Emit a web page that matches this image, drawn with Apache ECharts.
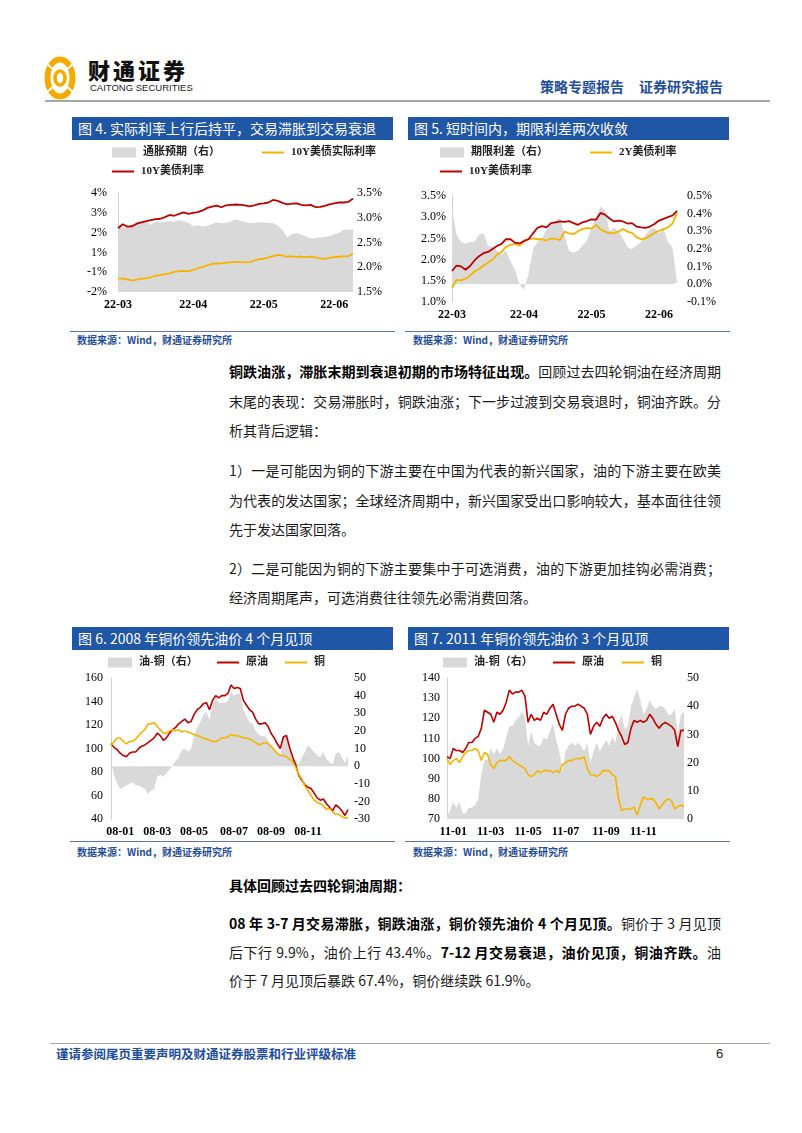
<!DOCTYPE html>
<html><head><meta charset="utf-8">
<script src="https://cdn.jsdelivr.net/npm/echarts@6/dist/echarts.min.js"></script>
<style>
html,body{margin:0;padding:0;background:#fff;}
body{width:802px;height:1133px;position:relative;overflow:hidden;font-family:'Noto Sans CJK SC',sans-serif;}
.tbar{position:absolute;height:23px;background:#1f56a5;color:#fff;font-size:14px;line-height:23px;padding-left:6px;box-sizing:border-box;white-space:nowrap;}
.src{position:absolute;font-size:10px;line-height:12px;color:#1f4e9c;font-weight:bold;white-space:nowrap;}
.srcline{position:absolute;height:1px;background:#5a76aa;}
.para{position:absolute;left:229px;width:492px;font-size:14px;color:#1a1a1a;line-height:29.5px;}
.j{text-align:justify;text-align-last:justify;}
b{font-weight:700;color:#000;}
.chart{position:absolute;}
</style></head>
<body>
<!-- header -->
<svg style="position:absolute;left:43px;top:55px" width="34" height="46" viewBox="0 0 34 46">
  <ellipse cx="17" cy="23" rx="12.5" ry="18.5" fill="none" stroke="#f5aa00" stroke-width="6"/>
  <ellipse cx="17" cy="23" rx="5" ry="7" fill="none" stroke="#f5aa00" stroke-width="3.5"/>
  <line x1="4" y1="9" x2="11" y2="15" stroke="#fff" stroke-width="2"/>
  <line x1="30" y1="9" x2="23" y2="15" stroke="#fff" stroke-width="2"/>
  <line x1="4" y1="37" x2="11" y2="31" stroke="#fff" stroke-width="2"/>
  <line x1="30" y1="37" x2="23" y2="31" stroke="#fff" stroke-width="2"/>
</svg>
<div style="position:absolute;left:88px;top:55px;font-size:22px;font-weight:900;letter-spacing:3px;color:#111;line-height:28px;">财通证券</div>
<div style="position:absolute;left:90px;top:82px;font-size:9.5px;font-family:'Liberation Sans',sans-serif;color:#222;line-height:11px;">CAITONG SECURITIES</div>
<div style="position:absolute;left:540px;top:76px;font-size:14px;font-weight:bold;color:#1f4e9c;line-height:20px;white-space:nowrap;">策略专题报告<span style="display:inline-block;width:15px"></span>证券研究报告</div>
<div style="position:absolute;left:45px;top:100px;width:725px;height:2px;background:#a6a6a6;"></div>

<!-- chart titles -->
<div class="tbar" style="left:72px;top:117px;width:321px;">图 4. 实际利率上行后持平，交易滞胀到交易衰退</div>
<div class="tbar" style="left:408px;top:117px;width:321px;">图 5. 短时间内，期限利差两次收敛</div>
<div class="tbar" style="left:72px;top:627px;width:321px;">图 6. 2008 年铜价领先油价 4 个月见顶</div>
<div class="tbar" style="left:408px;top:627px;width:321px;">图 7. 2011 年铜价领先油价 3 个月见顶</div>

<div id="c4" class="chart" style="left:70px;top:140px;width:330px;height:185px;"></div>
<div id="c5" class="chart" style="left:405px;top:140px;width:330px;height:185px;"></div>
<div id="c6" class="chart" style="left:70px;top:652px;width:330px;height:186px;"></div>
<div id="c7" class="chart" style="left:405px;top:652px;width:330px;height:186px;"></div>

<div class="srcline" style="left:70px;top:331px;width:325px;"></div>
<div class="srcline" style="left:405px;top:331px;width:325px;"></div>
<div class="src" style="left:77px;top:334px;">数据来源：Wind，财通证券研究所</div>
<div class="src" style="left:413px;top:334px;">数据来源：Wind，财通证券研究所</div>
<div class="srcline" style="left:70px;top:841px;width:325px;"></div>
<div class="srcline" style="left:405px;top:841px;width:325px;"></div>
<div class="src" style="left:77px;top:846px;">数据来源：Wind，财通证券研究所</div>
<div class="src" style="left:413px;top:846px;">数据来源：Wind，财通证券研究所</div>

<!-- body text -->
<div class="para" style="top:357px;">
  <div class="j"><b>铜跌油涨，滞胀末期到衰退初期的市场特征出现。</b>回顾过去四轮铜油在经济周期</div>
  <div class="j">末尾的表现：交易滞胀时，铜跌油涨；下一步过渡到交易衰退时，铜油齐跌。分</div>
  <div>析其背后逻辑：</div>
</div>
<div class="para" style="top:456px;">
  <div class="j">1）一是可能因为铜的下游主要在中国为代表的新兴国家，油的下游主要在欧美</div>
  <div class="j">为代表的发达国家；全球经济周期中，新兴国家受出口影响较大，基本面往往领</div>
  <div>先于发达国家回落。</div>
</div>
<div class="para" style="top:554px;line-height:28.5px;">
  <div class="j">2）二是可能因为铜的下游主要集中于可选消费，油的下游更加挂钩必需消费；</div>
  <div>经济周期尾声，可选消费往往领先必需消费回落。</div>
</div>
<div class="para" style="top:871px;">
  <div><b>具体回顾过去四轮铜油周期：</b></div>
</div>
<div class="para" style="top:909px;line-height:28.7px;">
  <div class="j"><b>08 年 3-7 月交易滞胀，铜跌油涨，铜价领先油价 4 个月见顶。</b>铜价于 3 月见顶</div>
  <div class="j">后下行 9.9%，油价上行 43.4%。<b>7-12 月交易衰退，油价见顶，铜油齐跌。</b>油</div>
  <div>价于 7 月见顶后暴跌 67.4%，铜价继续跌 61.9%。</div>
</div>

<!-- footer -->
<div style="position:absolute;left:50px;top:1043px;width:720px;height:1px;background:#a6a6a6;"></div>
<div style="position:absolute;left:56px;top:1045px;font-size:12.5px;font-weight:bold;color:#1f4e9c;line-height:18px;white-space:nowrap;">谨请参阅尾页重要声明及财通证券股票和行业评级标准</div>
<div style="position:absolute;left:716px;top:1045px;font-size:13px;color:#222;line-height:18px;font-family:'Liberation Sans',sans-serif;">6</div>

<script>
// ---------- data ----------
// Fig 4 (2022-03-01 .. every 2 days)
const fig4Start = '2022-03-01';
const fig4LeftTicks = ['-2%','-1%','1%','2%','3%','4%'];
const fig4Nominal10Y = [1.22,1.42,1.30,1.32,1.45,1.52,1.58,1.63,1.68,1.70,1.78,1.89,1.85,1.95,2.02,1.95,2.00,2.03,2.12,2.25,2.31,2.36,2.28,2.38,2.40,2.42,2.40,2.38,2.33,2.38,2.45,2.48,2.52,2.65,2.60,2.50,2.43,2.46,2.48,2.40,2.38,2.40,2.29,2.30,2.35,2.42,2.48,2.52,2.52,2.55,2.72];
const fig4Real10Y = [-1.31,-1.33,-1.36,-1.42,-1.38,-1.33,-1.30,-1.26,-1.18,-1.15,-1.10,-1.06,-0.98,-0.95,-0.94,-0.95,-0.88,-0.80,-0.74,-0.66,-0.58,-0.56,-0.55,-0.52,-0.50,-0.48,-0.49,-0.50,-0.49,-0.42,-0.34,-0.32,-0.25,-0.19,-0.13,-0.16,-0.22,-0.20,-0.23,-0.22,-0.24,-0.21,-0.25,-0.30,-0.33,-0.28,-0.24,-0.22,-0.20,-0.19,-0.05];
const fig4Inflation = [2.89,2.80,2.82,2.86,2.92,2.93,2.93,2.86,2.93,2.91,2.92,2.93,2.92,2.95,2.93,2.90,2.83,2.85,2.82,2.84,2.87,2.91,2.89,2.90,2.92,2.97,2.94,2.92,2.89,2.90,2.91,2.91,2.90,2.89,2.84,2.76,2.60,2.67,2.69,2.66,2.62,2.58,2.59,2.60,2.61,2.63,2.67,2.69,2.76,2.76,2.77];

// Fig 5 (2022-03-01 .. every 2 days)
const fig5Start = '2022-03-01';
const fig5Y10 = [1.73,1.86,1.84,1.76,1.85,1.98,2.08,2.15,2.18,2.25,2.32,2.37,2.48,2.48,2.40,2.38,2.44,2.48,2.62,2.75,2.79,2.76,2.86,2.88,2.90,2.89,2.91,2.86,2.82,2.88,2.91,2.95,2.94,3.10,3.06,2.97,2.90,2.92,2.90,2.85,2.86,2.78,2.76,2.75,2.78,2.84,2.92,2.96,3.00,3.04,3.15];
const fig5Y2 = [1.33,1.52,1.51,1.55,1.62,1.72,1.78,1.86,1.93,2.00,2.12,2.18,2.30,2.35,2.37,2.33,2.43,2.48,2.50,2.48,2.48,2.45,2.50,2.49,2.46,2.66,2.62,2.60,2.67,2.72,2.75,2.73,2.82,2.71,2.66,2.62,2.63,2.66,2.72,2.66,2.63,2.53,2.48,2.50,2.56,2.63,2.68,2.72,2.76,2.85,3.10];
const fig5Spread = [0.42,0.28,0.24,0.23,0.24,0.24,0.28,0.29,0.22,0.21,0.19,0.17,0.19,0.13,0.08,0.00,-0.03,0.06,0.20,0.24,0.26,0.31,0.34,0.36,0.38,0.28,0.19,0.18,0.19,0.22,0.25,0.32,0.38,0.44,0.42,0.30,0.32,0.30,0.26,0.21,0.20,0.22,0.24,0.28,0.31,0.32,0.29,0.31,0.24,0.21,0.01];

// Fig 6 (2008, every 5 days from 2007-12-18)
const fig6Start = '2007-12-18';
const fig6Oil = [104,101,99,96,94,93,96,97,97,100,102,103,105,107,109,113,111,107,109,113,116,118,121,123,125,122,123,129,133,135,138,139,133,141,145,143,145,145,147,154,151,152,151,141,137,133,131,125,121,121,122,119,113,109,104,100,110,111,101,93,86,77,73,69,67,66,62,58,56,57,53,50,47,52,50,47,43,48];
const fig6Copper = [102,106,109,109,106,104,106,106,108,111,114,116,121,121,122,119,116,113,113,115,116,115,116,114,115,114,113,112,111,110,109,108,107,106,106,107,109,109,110,112,111,111,110,109,109,108,107,105,103,104,105,104,102,99,96,94,94,93,91,89,84,78,74,68,64,60,56,54,53,51,48,49,46,44,44,42,41,41];
const fig6Spread = [2,-5,-10,-13,-12,-11,-10,-9,-11,-11,-12,-13,-16,-14,-13,-6,-5,-6,-4,-2,0,3,5,9,10,8,10,17,22,25,29,31,26,35,39,36,36,36,37,42,40,41,41,32,28,25,24,20,18,17,17,15,11,10,8,6,16,18,10,4,3,1,5,8,12,10,8,6,5,8,4,2,1,7,8,5,2,6];

// Fig 7 (2011, every 5 days from 2010-12-24)
const fig7Start = '2010-12-24';
const fig7Oil = [101,100,105,104,104,103,105,108,108,110,111,115,124,123,122,118,123,122,124,128,134,132,133,133,134,131,118,122,119,120,119,123,122,125,127,122,117,114,122,125,126,126,127,126,125,122,112,116,118,116,120,122,120,121,118,114,111,107,108,115,119,118,119,118,119,122,120,117,115,117,118,117,116,114,106,114,114];
const fig7Copper = [100,97,99,100,98,101,103,104,104,105,104,99,103,102,97,95,98,99,99,99,101,99,98,97,96,95,92,91,92,94,93,94,94,94,93,94,93,97,98,99,99,100,100,100,101,95,92,92,91,92,94,94,94,92,91,80,74,75,75,75,76,72,77,81,80,80,80,78,75,77,79,80,79,75,76,77,76];
const fig7Spread = [1,3,6,4,6,2,2,4,4,5,7,16,21,21,25,23,25,23,25,29,33,33,35,36,38,36,26,31,27,26,26,29,28,31,34,28,24,17,24,26,27,26,27,26,24,27,20,24,27,24,26,28,26,29,27,34,37,32,33,40,43,46,42,37,39,42,40,39,40,40,39,37,37,39,30,37,38];

// ---------- helpers ----------
const C_RED = '#c00000', C_YEL = '#f5b400', C_GRAY = '#d9d9d9';
const NUMFONT = "'Liberation Serif','Times New Roman',serif";
const LEGFONT = "'Liberation Serif','Noto Sans CJK SC',serif";

function makeDates(start, n, step) {
  const out = []; const d = new Date(start + 'T00:00:00Z');
  for (let i = 0; i < n; i++) { out.push(d.toISOString().slice(0, 10)); d.setUTCDate(d.getUTCDate() + step); }
  return out;
}
function xAx(dates, months, year) {
  return {
    type: 'category', data: dates, boundaryGap: false,
    axisLine: { show: false }, axisTick: { show: false }, splitLine: { show: false },
    axisLabel: {
      interval: function (i) {
        const d = dates[i], p = i > 0 ? dates[i - 1] : null;
        return d.slice(0, 4) === year && months.indexOf(+d.slice(5, 7)) >= 0 && (!p || p.slice(5, 7) !== d.slice(5, 7));
      },
      formatter: v => v.slice(2, 7), fontFamily: NUMFONT, fontWeight: 'bold', fontSize: 12, color: '#000', margin: 7
    }
  };
}
function yAx(pos, min, max, interval, fmt, margin, showLine) {
  return {
    type: 'value', position: pos, min: min, max: max, interval: interval,
    splitLine: { show: false }, axisTick: { show: false },
    axisLine: { show: showLine, lineStyle: { color: '#d0d0d0', width: 1 } },
    axisLabel: { formatter: fmt, fontFamily: NUMFONT, fontSize: 12, color: '#000', margin: margin }
  };
}
function lg(name, left, top, isArea) {
  return {
    data: [{ name: name, icon: 'rect' }], left: left, top: top,
    itemWidth: isArea ? 24 : 22, itemHeight: isArea ? 10 : 2, itemGap: 0, selectedMode: false, padding: 0,
    textStyle: { fontSize: 11, fontWeight: 'bold', fontFamily: LEGFONT, color: '#222', padding: [0, 0, 0, 2] }
  };
}
function area(name, data, origin) {
  return { name: name, type: 'line', yAxisIndex: 1, data: data, symbol: 'none', z: 1,
    lineStyle: { width: 0, color: C_GRAY }, itemStyle: { color: C_GRAY },
    areaStyle: { color: C_GRAY, opacity: 1, origin: origin } };
}
function line(name, data, color, w) {
  return { name: name, type: 'line', yAxisIndex: 0, data: data, symbol: 'none', z: 3,
    lineStyle: { width: w, color: color }, itemStyle: { color: color } };
}
function draw(id, opt) {
  const c = echarts.init(document.getElementById(id));
  opt.animation = false;
  c.setOption(opt);
}

// ---------- Fig 4 ----------
const d4 = makeDates(fig4Start, fig4Nominal10Y.length, 2);
draw('c4', {
  grid: { left: 48, top: 53, width: 235, height: 99 },
  legend: [lg('通胀预期（右）', 42, 7, true), lg('10Y美债实际利率', 192, 7, false), lg('10Y美债利率', 42, 26, false)],
  xAxis: xAx(d4, [3, 4, 5, 6], '2022'),
  yAxis: [yAx('left', -2, 3, 1, v => fig4LeftTicks[Math.round(v) + 2], 11, true),
          yAx('right', 1.5, 3.5, 0.5, v => v.toFixed(1) + '%', 4, false)],
  series: [area('通胀预期（右）', fig4Inflation, 'start'),
           line('10Y美债实际利率', fig4Real10Y, C_YEL, 1.8),
           line('10Y美债利率', fig4Nominal10Y, C_RED, 1.8)]
});

// ---------- Fig 5 ----------
const d5 = makeDates(fig5Start, fig5Y10.length, 2);
draw('c5', {
  grid: { left: 47, top: 56, width: 225, height: 106 },
  legend: [lg('期限利差（右）', 35, 7, true), lg('2Y美债利率', 185, 7, false), lg('10Y美债利率', 35, 26, false)],
  xAxis: xAx(d5, [3, 4, 5, 6], '2022'),
  yAxis: [yAx('left', 1.0, 3.5, 0.5, v => v.toFixed(1) + '%', 6, true),
          yAx('right', -0.1, 0.5, 0.1, v => v.toFixed(1) + '%', 10, false)],
  series: [area('期限利差（右）', fig5Spread, 0),
           line('2Y美债利率', fig5Y2, C_YEL, 1.8),
           line('10Y美债利率', fig5Y10, C_RED, 1.8)]
});

// ---------- Fig 6 ----------
const d6 = makeDates(fig6Start, fig6Oil.length, 5);
draw('c6', {
  grid: { left: 41, top: 26, width: 237, height: 142 },
  legend: [lg('油-铜（右）', 38, 5, true), lg('原油', 147, 5, false), lg('铜', 215, 5, false)],
  xAxis: xAx(d6, [1, 3, 5, 7, 9, 11], '2008'),
  yAxis: [yAx('left', 40, 160, 20, v => String(v), 8, true),
          yAx('right', -30, 50, 10, v => String(v), 6, false)],
  series: [area('油-铜（右）', fig6Spread, 0),
           line('原油', fig6Oil, C_RED, 1.6),
           line('铜', fig6Copper, C_YEL, 1.6)]
});

// ---------- Fig 7 ----------
const d7 = makeDates(fig7Start, fig7Oil.length, 5);
draw('c7', {
  grid: { left: 42, top: 26, width: 237, height: 141 },
  legend: [lg('油-铜（右）', 38, 5, true), lg('原油', 148, 5, false), lg('铜', 217, 5, false)],
  xAxis: xAx(d7, [1, 3, 5, 7, 9, 11], '2011'),
  yAxis: [yAx('left', 70, 140, 10, v => String(v), 7, true),
          yAx('right', 0, 50, 10, v => String(v), 3, false)],
  series: [area('油-铜（右）', fig7Spread, 0),
           line('原油', fig7Oil, C_RED, 1.6),
           line('铜', fig7Copper, C_YEL, 1.6)]
});
</script>
</body></html>
